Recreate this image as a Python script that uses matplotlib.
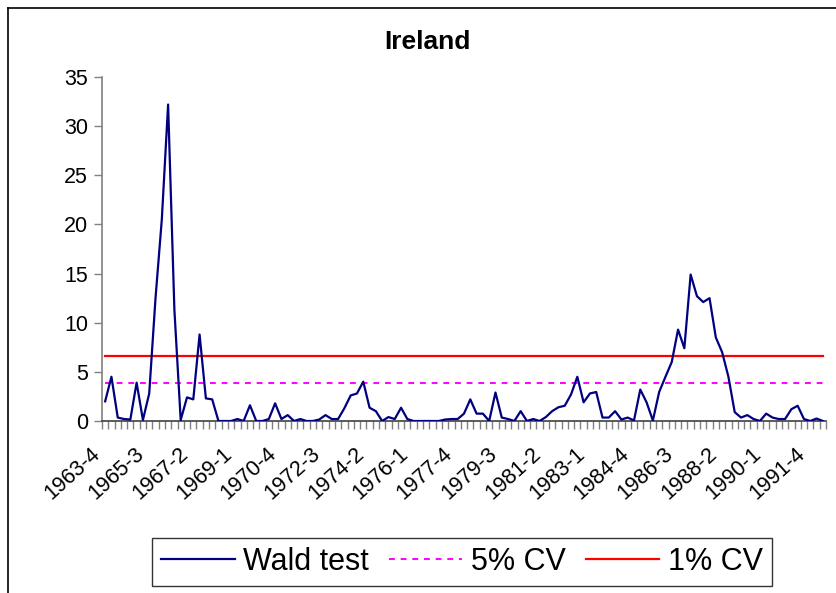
import numpy as np
import matplotlib
matplotlib.use('Agg')
import matplotlib.pyplot as plt
from matplotlib.lines import Line2D
from matplotlib.transforms import ScaledTranslation

plt.rcParams['font.family'] = ['Liberation Sans', 'DejaVu Sans']

# quarterly Wald statistics, 1963-4 .. 1992-2
wald = [2.0, 4.5, 0.35, 0.2, 0.15, 3.9, 0.1, 2.8, 12.5, 20.5,
        32.2, 11.3, 0.1, 2.4, 2.2, 8.8, 2.3, 2.2, 0.0, 0.0,
        0.0, 0.2, 0.0, 1.6, 0.0, 0.0, 0.2, 1.8, 0.2, 0.6,
        0.0, 0.2, 0.0, 0.0, 0.15, 0.6, 0.2, 0.2, 1.3, 2.6,
        2.8, 4.0, 1.35, 1.0, 0.0, 0.4, 0.2, 1.35, 0.2, 0.0,
        0.0, 0.0, 0.0, 0.0, 0.15, 0.2, 0.2, 0.75, 2.2, 0.75,
        0.75, 0.0, 2.9, 0.35, 0.2, 0.0, 1.0, 0.0, 0.2, 0.0,
        0.4, 1.0, 1.4, 1.55, 2.7, 4.5, 1.9, 2.8, 2.95, 0.35,
        0.35, 1.0, 0.15, 0.35, 0.05, 3.2, 1.9, 0.05, 2.95, 4.5,
        6.0, 9.3, 7.4, 14.9, 12.7, 12.1, 12.5, 8.5, 7.0, 4.5,
        0.9, 0.35, 0.6, 0.2, 0.0, 0.75, 0.35, 0.2, 0.2, 1.2,
        1.55, 0.2, 0.0, 0.25, 0.0]
cv5 = 3.84
cv1 = 6.63
start_year = 1963
start_q = 4

quarters = []
y, q = start_year, start_q
for _ in range(len(wald)):
    quarters.append(f"{y}-{q}")
    q += 1
    if q > 4:
        q = 1
        y += 1

n = len(wald)
x = np.arange(n)

fig = plt.figure(figsize=(8.36, 5.93), dpi=100)
ax = fig.add_axes([102/836, 1-421/593, 724/836, 344/593])

ax.plot(x, wald, color='#000080', lw=1.6, label='Wald test', zorder=3)
ax.plot(x, [cv5]*n, color='#FF00FF', lw=1.4, ls=(0, (3, 3)), label='5% CV', zorder=2)
ax.plot(x, [cv1]*n, color='#FF0000', lw=1.6, label='1% CV', zorder=2)

ax.set_xlim(-0.5, n - 0.5)
ax.set_ylim(0, 35)
ax.set_yticks(np.arange(0, 36, 5))

lab_pos = x[::7]
ax.set_xticks(lab_pos)
ax.set_xticklabels([quarters[i] for i in lab_pos], rotation=42, ha='right',
                   va='top', rotation_mode='anchor', fontsize=15.5)
ax.tick_params(axis='x', length=0, pad=16)
shift = ScaledTranslation(-15/100, 0, fig.dpi_scale_trans)
for lbl in ax.get_xticklabels():
    lbl.set_transform(lbl.get_transform() + shift)
ax.set_xticks(np.arange(-0.5, n, 1), minor=True)
ax.tick_params(axis='x', which='minor', length=6, width=1, color='#808080', direction='out')
ax.tick_params(axis='y', length=6, width=1, color='#808080', labelsize=15.5, pad=4)

for s in ['top', 'right']:
    ax.spines[s].set_visible(False)
ax.spines['left'].set_color('#808080')
ax.spines['left'].set_linewidth(1.2)
ax.spines['bottom'].set_color('#404040')
ax.spines['bottom'].set_linewidth(1.2)

fig.text(427/836, 1-42/593, 'Ireland', ha='center', va='center',
         fontsize=19, fontweight='bold')

leg = fig.legend(loc='center', bbox_to_anchor=(462/836, 1-562/593), ncol=3,
                 fontsize=22, frameon=True, fancybox=False, edgecolor='black',
                 handlelength=2.4, handletextpad=0.28, columnspacing=0.65,
                 borderpad=0.3)
leg.get_frame().set_linewidth(1.0)

# outer chart frame (only left and top edges fall inside the image)
fig.add_artist(Line2D([8/836, 8/836], [0, 1-8/593], color='black', lw=1.2))
fig.add_artist(Line2D([8/836, 1], [1-8/593, 1-8/593], color='black', lw=1.2))

fig.savefig('out.png', dpi=100)
